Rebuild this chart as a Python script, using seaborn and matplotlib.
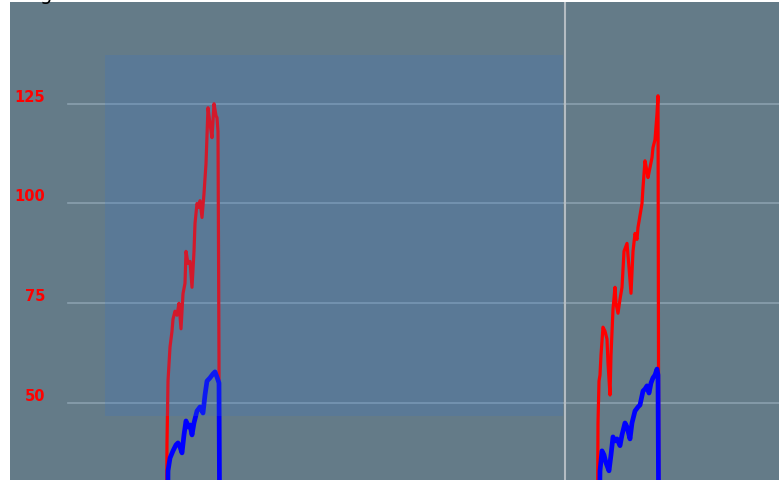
import matplotlib
matplotlib.use("Agg")
import matplotlib.pyplot as plt
import matplotlib.transforms as mtransforms
import numpy as np
import pandas as pd
import seaborn as sns

# ---- data ----
red1_t = [156, 157, 158, 160, 162, 163, 165, 167, 169, 171, 173, 175, 176, 178, 180, 182, 184, 185, 187, 189, 190, 192, 194, 196, 198, 200, 202, 204, 206, 207, 208, 209, 209.5]
red1_v = [0, 40, 55.5, 64, 68, 71, 73, 72, 75, 68.6, 77.4, 80, 88, 85, 85.5, 79, 88, 95, 100, 99, 100.7, 96.5, 102.5, 110, 124, 120, 116.5, 125, 122, 121.5, 118, 60, 0]

blue1_t = [157, 158, 160, 163, 166, 168, 170, 172, 174, 176, 178, 180, 182, 184, 187, 190, 193, 195, 197, 200, 203, 205, 207, 209, 210]
blue1_v = [0, 33, 36.2, 38, 39.5, 40, 39, 37.5, 42, 45.5, 44, 44.5, 42, 45, 48, 49, 47.5, 52, 55.5, 56.3, 57.3, 57.8, 56.5, 55, 0]

red2_t = [587, 588, 589, 590, 591, 593, 595, 597, 598, 600, 601, 603, 605, 606, 608, 610, 612, 614, 617, 619, 621, 623, 625, 627, 628, 630, 632, 633, 635, 637, 638, 640, 642, 643, 645, 647, 648, 648.5, 649]
red2_v = [0, 45, 55.5, 57, 62, 69, 68, 66, 60, 52, 62, 73.5, 79, 75, 72.5, 76, 79, 88, 90, 84, 77.5, 88, 92.5, 91, 94, 97, 100, 104, 110.7, 108, 106.5, 109, 111.5, 114, 116, 122.5, 127, 60, 0]

blue2_t = [588, 590, 592, 594, 596, 599, 601, 603, 605, 607, 610, 612, 615, 617, 620, 622, 625, 628, 630, 633, 635, 637, 639, 641, 643, 645, 647, 648, 649]
blue2_v = [0, 33, 38, 37, 35, 33, 37, 41.5, 40.5, 41, 39.3, 42, 45, 44, 41, 45, 48, 49, 49.5, 53, 53.5, 54.3, 52.5, 55, 56.3, 57, 58.5, 57, 0]

y_ticks = [50, 75, 100, 125]
y_tick_labels = ["50", "75", "100", "125"]

band_t = (95, 553)
band_v = (46.7, 137.3)
marker_t = 555

frames = []
for name, seg, t, v in [("red", 1, red1_t, red1_v), ("blue", 1, blue1_t, blue1_v),
                        ("red", 2, red2_t, red2_v), ("blue", 2, blue2_t, blue2_v)]:
    frames.append(pd.DataFrame({"t": t, "v": v, "series": name, "segment": seg}))
df = pd.concat(frames, ignore_index=True)

# ---- figure ----
W, H = 779, 481
fig = plt.figure(figsize=(W / 100, H / 100), dpi=100, facecolor="white")
ax = fig.add_axes([10 / W, 0, (W - 10) / W, 478 / H])
ax.set_facecolor("#647b88")

ax.set_xlim(0, W - 10)
ax.set_ylim(30.7, 150.5)

# gridlines (start a bit inside the axes)
for yv in y_ticks:
    ax.plot([58, W - 10], [yv, yv], color="#8aa0ae", lw=1.2, zorder=1)

# lines
df_red = df[df.series == "red"]
df_blue = df[df.series == "blue"]
sns.lineplot(data=df_red, x="t", y="v", units="segment", estimator=None, color="#ff0000",
             lw=2.3, ax=ax, legend=False, zorder=3, sort=False)
sns.lineplot(data=df_blue, x="t", y="v", units="segment", estimator=None, color="#0000ff",
             lw=3.4, ax=ax, legend=False, zorder=3, sort=False)

# translucent band on top
ax.fill_between([band_t[0], band_t[1]], band_v[0], band_v[1], color="#3a75c8", alpha=0.22,
                lw=0, zorder=4)

# vertical marker
ax.axvline(marker_t, color="#b4bcc2", lw=1.5, zorder=5)

# y labels inside the plot
trans = mtransforms.blended_transform_factory(ax.transAxes, ax.transData)
off = mtransforms.offset_copy(trans, fig=fig, x=0, y=3, units="dots")
for yv, lab in zip(y_ticks, y_tick_labels):
    ax.text(35 / (W - 10), yv, lab, transform=off, ha="right", va="baseline",
            color="#ff0000", fontsize=10.5, fontweight="bold", family="DejaVu Sans")

ax.set_xticks([])
ax.set_yticks([])
ax.set_xlabel("")
ax.set_ylabel("")
for s in ax.spines.values():
    s.set_visible(False)

fig.text(40 / W, 1.0, "g", ha="left", va="baseline", fontsize=14, color="black")

fig.savefig("out.png", dpi=100, facecolor="white")
